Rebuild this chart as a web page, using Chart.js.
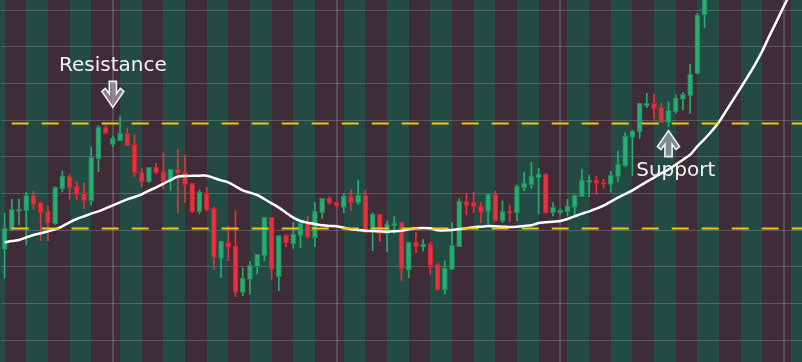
<!DOCTYPE html>
<html>
<head>
<meta charset="UTF-8">
<title>Support / Resistance</title>
<script src="https://cdn.jsdelivr.net/npm/chart.js"></script>
<style>
  html, body { margin: 0; padding: 0; background: #244b43; }
  #wrap { width: 802px; height: 362px; }
</style>
</head>
<body>
<div id="wrap"><canvas id="chart"></canvas></div>
<script>
// candles (price units)
const OPEN = [137.2,143.0,148.6,148.8,153.4,151.3,148.6,144.9,155.4,159.1,
  156.1,154.0,151.8,164.4,173.8,168.7,169.8,172.0,168.7,160.3,
  157.5,161.8,160.5,157.7,161.2,160.3,157.0,148.5,154.0,149.5,
  134.5,139.3,138.2,124.3,128.2,132.0,135.3,146.8,129.0,141.4,
  138.9,141.3,145.0,140.7,148.2,152.5,151.3,149.8,153.2,151.2,
  153.4,142.5,147.8,141.8,144.3,145.3,131.0,139.3,138.0,138.7,
  132.7,125.0,131.2,138.0,151.7,151.3,150.2,148.6,153.8,145.7,
  148.7,148.2,155.7,156.6,158.7,159.8,148.2,148.2,148.5,149.8,
  153.0,157.3,158.0,157.4,156.7,159.0,162.3,170.8,172.5,180.3,
  181.0,179.8,175.2,178.5,182.2,183.3,190.0,207.5];
const CLOSE = [143.5,149.2,149.2,153.4,150.6,148.2,145.2,155.8,159.2,155.7,
  153.6,151.8,164.8,173.8,172.0,170.5,172.0,168.3,160.2,157.5,
  161.8,160.2,157.5,161.2,160.0,156.6,148.5,154.4,149.0,134.8,
  139.7,137.8,124.3,128.5,132.4,135.7,146.8,131.2,141.3,139.2,
  141.7,145.0,140.8,148.6,152.5,151.0,150.3,153.2,151.2,153.4,
  142.2,147.8,141.8,144.8,145.0,131.2,139.3,138.0,138.7,132.3,
  125.1,131.5,138.4,151.7,150.3,150.0,148.2,153.8,145.8,148.6,
  148.0,156.2,157.1,159.2,159.8,148.2,149.8,149.0,150.2,153.5,
  158.0,158.0,157.0,156.7,159.4,162.7,171.2,172.7,181.0,181.0,
  179.4,175.2,179.0,182.5,183.7,189.8,207.5,216.0];
const HIGH = [148.0,152.2,152.2,154.3,154.7,151.3,150.3,156.0,160.7,159.7,
  157.5,157.1,167.9,174.3,174.3,171.2,177.2,173.5,171.5,161.5,
  161.8,163.0,166.2,161.2,167.2,165.5,157.0,155.0,155.8,149.8,
  139.7,144.2,148.8,131.6,133.6,135.7,146.8,146.8,141.3,141.7,
  145.3,145.7,147.2,151.2,152.5,153.0,151.3,153.8,155.0,158.0,
  155.0,148.2,147.8,145.7,147.2,145.3,139.3,142.3,140.2,139.3,
  132.9,133.7,145.2,152.4,154.0,154.3,151.2,153.8,154.7,151.7,
  150.5,156.5,160.3,163.3,161.5,160.0,151.3,149.4,152.2,153.5,
  161.3,159.5,159.2,158.2,160.6,166.7,172.2,173.0,181.0,184.0,
  183.7,181.0,181.4,183.5,184.3,192.7,208.0,217.0];
const LOW = [128.5,142.8,144.5,138.5,149.2,139.8,139.8,144.7,154.5,152.2,
  152.2,149.3,150.5,160.5,171.8,168.0,169.8,168.3,159.0,156.0,
  157.2,159.8,155.3,155.0,148.2,151.2,148.2,147.9,148.7,131.2,
  128.8,133.8,123.0,123.3,123.7,129.8,133.8,128.2,124.8,138.0,
  137.5,137.7,140.5,138.0,146.5,150.7,150.0,148.2,148.8,150.7,
  142.2,136.8,139.5,136.5,142.0,127.8,128.7,136.2,136.7,129.8,
  124.9,123.8,131.2,138.0,147.6,148.2,145.2,144.8,145.5,145.2,
  145.5,145.8,154.8,155.5,147.8,148.0,147.2,147.7,147.2,147.2,
  153.0,153.0,153.7,155.5,154.4,157.5,162.0,159.3,170.5,179.7,
  176.3,175.2,174.0,178.0,179.0,178.0,189.8,203.7];
// moving average, one value per bar slot
const MA = [139.3,139.7,140.0,140.8,141.5,142.0,142.6,143.2,144.1,145.3,
  146.3,147.1,147.9,148.6,149.5,150.4,151.3,152.2,152.9,153.7,
  154.8,155.8,156.9,158.0,159.0,159.2,159.3,159.3,159.3,158.6,
  157.9,157.3,156.1,154.9,154.2,153.5,152.3,151.0,149.7,148.2,
  146.7,145.7,145.2,144.8,144.4,144.2,144.1,143.7,143.2,143.0,
  142.8,142.7,142.6,142.5,142.6,142.8,143.2,143.5,143.6,143.5,
  142.9,142.9,143.0,143.3,143.5,143.8,144.0,144.2,144.1,144.0,
  143.9,144.0,144.2,144.4,145.1,145.3,145.5,145.7,146.3,147.1,
  147.9,148.6,149.4,150.3,151.5,152.7,153.8,154.9,156.2,157.5,
  158.7,160.0,161.2,162.6,164.1,165.6,168.1,170.3,172.7,175.4,
  178.8,182.2,185.6,189.1,192.7,196.7,201.3,205.7,210.2,214.4,218.6];
const LABELS = MA.map((_, i) => 'P' + (i + 1));

const RESISTANCE = 175.2;
const SUPPORT = 143.7;
const GRID_LEVELS = [110, 121, 132, 143, 154, 165, 176, 187, 198, 209];
const VLINE_AT = [15, 46, 77, 108];
// session shading: edges in bar slots, first band is green
const BAND_EDGES = [-3, 0, 3, 6, 9, 12, 16, 19, 22, 25, 28, 31, 34, 37, 40, 43, 47, 50, 53, 56,
  59, 62, 65, 68, 71, 74, 78, 81, 84, 87, 90, 93, 96, 99, 102, 105, 109, 112];

const UP = '#27ad72', UP_EDGE = '#1f8a5b';
const DOWN = '#e5323f', DOWN_EDGE = '#bd2330';
const isUp = OPEN.map((o, i) => CLOSE[i] >= o);

const bands = {
  id: 'bands',
  beforeDraw(chart) {
    const { ctx, width, height, scales: { x } } = chart;
    ctx.save();
    for (let k = 0; k < BAND_EDGES.length - 1; k++) {
      const x0 = Math.max(0, Math.round(x.getPixelForValue(BAND_EDGES[k])));
      const x1 = Math.min(width, Math.round(x.getPixelForValue(BAND_EDGES[k + 1])));
      ctx.fillStyle = k % 2 === 0 ? '#244b43' : '#3e2c36';
      ctx.fillRect(x0, 0, x1 - x0, height);
    }
    ctx.restore();
  }
};

function arrow(ctx, cx, tipY, dir) {
  // dir 1 = pointing up, -1 = pointing down
  const pts = [[0, 0], [11, 16], [7.5, 19], [3.6, 13.5], [3.6, 26], [-3.6, 26], [-3.6, 13.5], [-7.5, 19], [-11, 16]];
  ctx.beginPath();
  pts.forEach(([dx, dy], i) => {
    const px = cx + dx, py = tipY + dir * dy;
    if (i === 0) ctx.moveTo(px, py); else ctx.lineTo(px, py);
  });
  ctx.closePath();
  ctx.fillStyle = 'rgba(185,185,185,0.6)';
  ctx.fill();
  ctx.lineWidth = 1.6;
  ctx.lineJoin = 'miter';
  ctx.strokeStyle = '#f4f4f4';
  ctx.stroke();
}

const overlay = {
  id: 'overlay',
  afterDatasetsDraw(chart) {
    const { ctx, width, scales: { x, y } } = chart;
    ctx.save();
    ctx.strokeStyle = '#f0c419';
    ctx.lineWidth = 2;
    ctx.setLineDash([17, 13]);
    ctx.lineDashOffset = 18.3;
    [RESISTANCE, SUPPORT].forEach(v => {
      const py = Math.round(y.getPixelForValue(v)) + 0.5;
      ctx.beginPath();
      ctx.moveTo(0, py);
      ctx.lineTo(width, py);
      ctx.stroke();
    });
    ctx.setLineDash([]);

    ctx.font = '20px "DejaVu Sans"';
    ctx.fillStyle = '#f4f4f4';
    ctx.textAlign = 'center';
    ctx.textBaseline = 'alphabetic';
    ctx.fillText('Resistance', x.getPixelForValue(15), y.getPixelForValue(190.8));
    ctx.fillText('Support', x.getPixelForValue(93), y.getPixelForValue(159.2));

    arrow(ctx, x.getPixelForValue(15), y.getPixelForValue(179.8), -1);
    arrow(ctx, x.getPixelForValue(92), y.getPixelForValue(172.8), 1);
    ctx.restore();
  }
};

new Chart(document.getElementById('chart'), {
  type: 'bar',
  data: {
    labels: LABELS,
    datasets: [
      {
        type: 'line',
        label: 'MA',
        data: MA,
        borderColor: '#ffffff',
        borderWidth: 2.5,
        pointRadius: 0,
        tension: 0.3,
        order: 0
      },
      {
        label: 'body',
        data: OPEN.map((o, i) => [o, CLOSE[i]]),
        backgroundColor: isUp.map(u => u ? UP : DOWN),
        borderColor: isUp.map(u => u ? UP_EDGE : DOWN_EDGE),
        borderWidth: 1,
        borderSkipped: false,
        barThickness: 5,
        grouped: false,
        order: 1
      },
      {
        label: 'wick',
        data: LOW.map((l, i) => [l, HIGH[i]]),
        backgroundColor: isUp.map(u => u ? UP : DOWN),
        borderWidth: 0,
        barThickness: 1,
        grouped: false,
        order: 2
      }
    ]
  },
  options: {
    responsive: true,
    maintainAspectRatio: false,
    animation: false,
    layout: { padding: { left: 1, right: 0, top: 0, bottom: 0 } },
    plugins: { legend: { display: false }, tooltip: { enabled: false } },
    scales: {
      x: {
        offset: true,
        ticks: { display: false, autoSkip: false },
        border: { display: false },
        grid: {
          offset: false,
          drawTicks: false,
          lineWidth: 2,
          color: c => VLINE_AT.includes(c.index) ? 'rgba(150,135,160,0.35)' : 'transparent'
        }
      },
      y: {
        min: 103.4,
        max: 212,
        afterBuildTicks: s => { s.ticks = GRID_LEVELS.map(v => ({ value: v })); },
        ticks: { display: false },
        border: { display: false },
        grid: { drawTicks: false, lineWidth: 1, color: 'rgba(190,190,200,0.28)' }
      }
    }
  },
  plugins: [bands, overlay]
});
</script>
</body>
</html>
